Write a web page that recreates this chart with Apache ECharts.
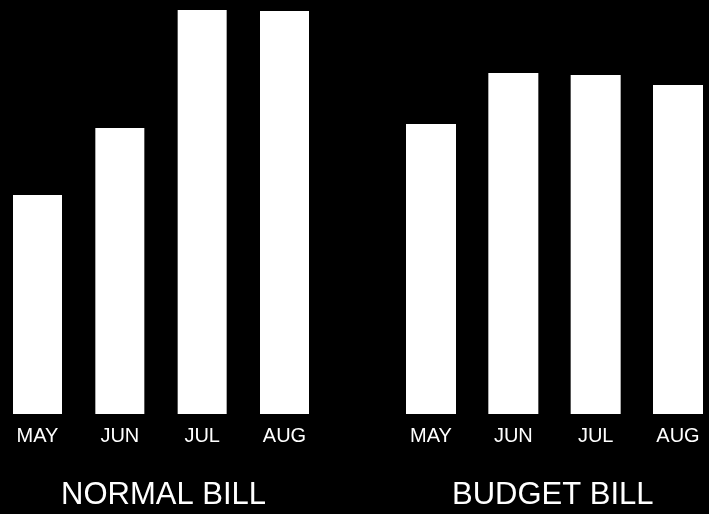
<!DOCTYPE html>
<html>
<head>
<meta charset="utf-8">
<script src="https://cdn.jsdelivr.net/npm/echarts@6/dist/echarts.min.js"></script>
<style>
html,body{margin:0;padding:0;background:#000;}
#chart{width:709px;height:514px;}
</style>
</head>
<body>
<div id="chart"></div>
<script>
var months = ['MAY', 'JUN', 'JUL', 'AUG'];
var normalBill = [219, 286, 404, 403];
var budgetBill = [290, 341, 339, 329];
var groupTitles = ['NORMAL BILL', 'BUDGET BILL'];

var chart = echarts.init(document.getElementById('chart'));
var axisCommon = {
  type: 'category',
  data: months,
  boundaryGap: false,
  axisLine: {show: false},
  axisTick: {show: false},
  splitLine: {show: false},
  axisLabel: {color: '#fff', fontSize: 20, fontFamily: 'Liberation Sans', margin: 12}
};
var yCommon = {type: 'value', min: 0, max: 414, show: false};
chart.setOption({
  backgroundColor: '#000',
  animation: false,
  grid: [
    {left: 37.5, width: 247, top: 0, bottom: 100},
    {left: 431, width: 247, top: 0, bottom: 100}
  ],
  xAxis: [
    Object.assign({gridIndex: 0}, axisCommon),
    Object.assign({gridIndex: 1}, axisCommon)
  ],
  yAxis: [
    Object.assign({gridIndex: 0}, yCommon),
    Object.assign({gridIndex: 1}, yCommon)
  ],
  series: [
    {type: 'bar', name: groupTitles[0], xAxisIndex: 0, yAxisIndex: 0, data: normalBill, barWidth: 49, clip: false, itemStyle: {color: '#fff'}},
    {type: 'bar', name: groupTitles[1], xAxisIndex: 1, yAxisIndex: 1, data: budgetBill, barWidth: 50, clip: false, itemStyle: {color: '#fff'}}
  ],
  graphic: [
    {type: 'text', left: 163 - 102, top: 480, style: {text: groupTitles[0], fill: '#fff', font: '31px "Liberation Sans"'}},
    {type: 'text', left: 553 - 101, top: 480, style: {text: groupTitles[1], fill: '#fff', font: '31px "Liberation Sans"'}}
  ]
});
</script>
</body>
</html>
